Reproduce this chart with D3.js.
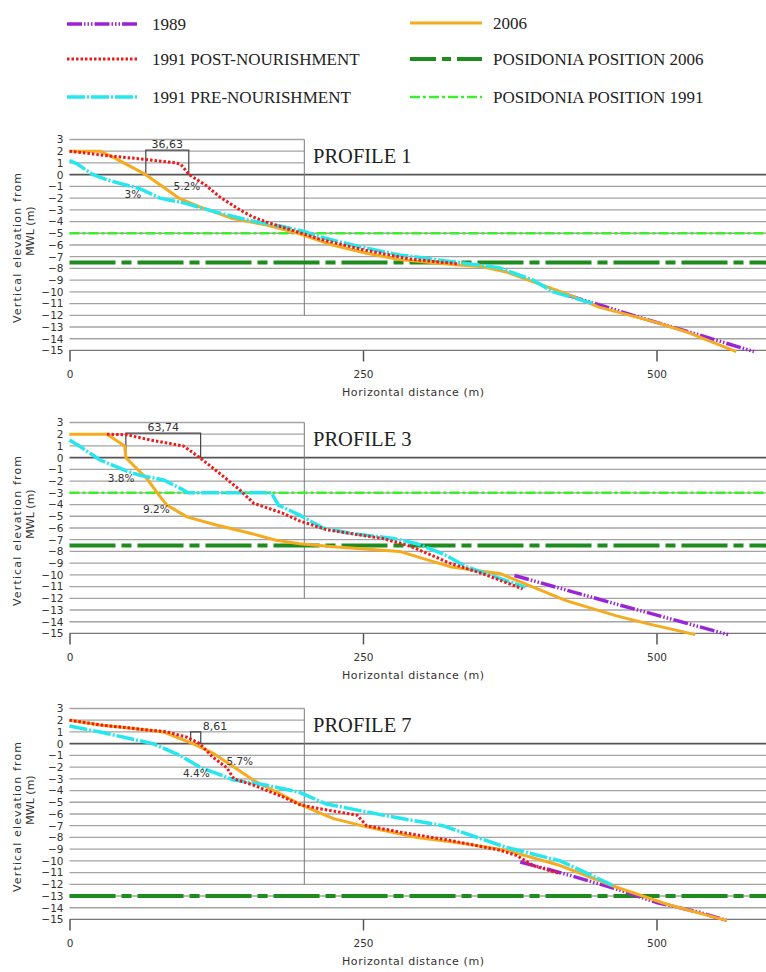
<!DOCTYPE html>
<html>
<head>
<meta charset="utf-8">
<script src="https://cdn.jsdelivr.net/npm/d3@7"></script>
<style>
  body { margin: 0; background: #fff; }
  svg { display: block; }
  .cad { font-family: "DejaVu Sans", sans-serif; fill: #333; }
</style>
</head>
<body>
<svg width="766" height="972"></svg>
<script>
// profile titles and posidonia levels (m)
var profileNames = ["PROFILE 1", "PROFILE 3", "PROFILE 7"];
var posidonia2006 = [-7.5, -7.5, -13];
var posidonia1991 = [-5, -3, null];

// [horizontal distance (m), elevation (m)]
var p1_1989 = [[425,-10.3],[480,-12.0],[537,-13.7],[583,-15.1]];
var p1_post = [[0,2.0],[34,1.6],[65,1.3],[91,1.0],[95,0.85],[102,0],[116,-0.9],[128,-1.9],[145,-3.0],[156,-3.6],[168,-4.05],[190,-4.75],[213,-5.5],[250,-6.4],[290,-7.2],[330,-7.6]];
var p1_pre = [[0,1.2],[6,0.95],[20,0],[34,-0.5],[60,-1.2],[77,-2.0],[99,-2.45],[125,-3.2],[153,-3.9],[182,-4.45],[200,-4.85],[213,-5.3],[247,-6.15],[281,-6.85],[324,-7.4],[366,-7.95],[395,-9.0],[412,-10.0],[446,-11.0]];
var p1_2006 = [[0,2.0],[26,2.0],[37,1.5],[65,0],[94,-2.05],[111,-2.75],[139,-3.75],[168,-4.3],[196,-5.05],[224,-6.0],[253,-6.7],[281,-7.25],[324,-7.65],[352,-7.85],[372,-8.3],[395,-9.15],[423,-10.15],[451,-11.3],[500,-12.6],[525,-13.4],[568,-15.1]];

var p3_1989 = [[379,-10.05],[466,-12.5],[561,-15.1]];
var p3_post = [[32,2.0],[49,1.95],[69,1.5],[97,1.0],[111,0],[128,-1.35],[145,-2.75],[157,-3.9],[182,-4.75],[196,-5.4],[219,-6.15],[267,-6.9],[290,-7.55],[324,-9.0],[352,-9.9],[386,-11.2]];
var p3_pre = [[0,1.5],[9,0.95],[26,-0.2],[49,-1.15],[60,-1.5],[80,-1.9],[94,-2.6],[101,-3.0],[172,-3.0],[178,-4.05],[196,-4.9],[216,-6.0],[239,-6.45],[276,-6.9],[296,-7.35],[318,-8.2],[338,-9.3],[355,-9.9],[388,-11.05]];
var p3_2006 = [[0,2.0],[32,2.0],[47,1.0],[48,0],[54,-0.6],[66,-1.8],[77,-3.3],[83,-4.05],[100,-5.05],[125,-5.75],[154,-6.45],[176,-7.05],[196,-7.35],[225,-7.6],[281,-8.0],[324,-9.3],[367,-9.9],[395,-11.05],[423,-12.2],[466,-13.5],[494,-14.2],[533,-15.1]];

var p7_1989 = [[384,-10.1],[418,-11.0],[466,-12.4],[500,-13.55],[537,-14.4],[560,-15.1]];
var p7_post = [[0,2.0],[26,1.6],[83,1.0],[100,0.55],[111,0],[122,-1.15],[134,-2.05],[140,-3.0],[157,-3.55],[182,-4.55],[196,-5.2],[213,-5.55],[245,-6.1],[253,-7.0],[282,-7.55],[324,-8.25],[367,-9.1],[381,-9.55],[395,-10.4],[418,-11.1]];
var p7_pre = [[0,1.5],[26,1.0],[71,0],[94,-1.0],[111,-2.0],[140,-3.1],[168,-3.55],[196,-4.15],[213,-4.9],[219,-5.15],[267,-6.1],[318,-7.0],[372,-8.85],[418,-10.0],[463,-12.1]];
var p7_2006 = [[0,2.0],[26,1.6],[54,1.3],[80,1.0],[91,0.55],[105,0],[123,-0.85],[140,-2.0],[157,-3.15],[177,-4.15],[196,-5.15],[213,-5.9],[225,-6.4],[253,-7.1],[296,-8.0],[338,-8.55],[372,-9.1],[418,-10.4],[466,-12.25],[509,-13.7],[560,-15.1]];

// shoreline shift: [from, to] distance (m) and its label
var shiftSpans = [[65,101.6],[48,111.7],[103.2,111.8]];
var shiftLabels = ["36,63", "63,74", "8,61"];
// slope labels: [2006 slope, 1991 slope]
var slopeLabels = [["5.2%","3%"], ["9.2%","3.8%"], ["5.7%","4.4%"]];

var yTicks = d3.range(3, -16, -1);
var xTicks = [0, 250, 500];

var legendNames = ["1989", "1991 POST-NOURISHMENT", "1991 PRE-NOURISHMENT", "2006", "POSIDONIA POSITION 2006", "POSIDONIA POSITION 1991"];

var svg = d3.select("svg"),
    width = +svg.attr("width");

var styles = {
  y1989: {stroke: "#9b24d8", width: 3.5, dash: "15,2,1.5,2,1.5,2,1.5,2"},
  post: {stroke: "#f01818", width: 3, dash: "2.5,2"},
  pre: {stroke: "#26e6ef", width: 3.5, dash: "18,2,2,2"},
  y2006: {stroke: "#f6aa1e", width: 3, dash: null},
  pos2006: {stroke: "#1e8c1e", width: 4, dash: "46,6,10,6"},
  pos1991: {stroke: "#3cee2c", width: 2.5, dash: "10,3,3,3"}
};

var x = d3.scaleLinear().domain([0, 500]).range([69.5, 656.5]);
var yStep = 11.72;
var tops = [139.5, 422.5, 708.5];
var series = [
  [p1_1989, p1_2006, p1_pre, p1_post],
  [p3_1989, p3_2006, p3_pre, p3_post],
  [p7_1989, p7_2006, p7_pre, p7_post]
];
var seriesStyle = [styles.y1989, styles.y2006, styles.pre, styles.post];

// slope label anchors [distance, elevation] per profile
var slopePos = [
  [[100,-1.35],[54,-1.95]],
  [[74,-4.7],[44,-2.05]],
  [[145,-1.8],[108,-2.85]]
];
var shiftBar = [[2.1, 0, 0], [2.1, 0, 0], [1.0, 0.1, 0]];

function styled(sel, s) {
  sel.attr("fill", "none")
    .attr("stroke", s.stroke)
    .attr("stroke-width", s.width)
    .attr("stroke-dasharray", s.dash);
  return sel;
}

profileNames.forEach(function(name, i) {
  var top = tops[i],
      y = d3.scaleLinear().domain([3, -15]).range([top, top + 18 * yStep]),
      g = svg.append("g");

  // grid
  g.selectAll("line.grid")
    .data(yTicks)
    .enter().append("line")
      .attr("class", "grid")
      .attr("x1", x(0))
      .attr("x2", function(d) { return d > 0 ? x(200) : width; })
      .attr("y1", function(d) { return y(d); })
      .attr("y2", function(d) { return y(d); })
      .attr("stroke", function(d) { return d === 0 ? "#555" : (d === -15 ? "#777" : "#a4a4a4"); })
      .attr("stroke-width", function(d) { return d === 0 ? 1.6 : 1.3; });

  g.append("line")
    .attr("x1", x(200)).attr("x2", x(200))
    .attr("y1", y(3)).attr("y2", y(-12))
    .attr("stroke", "#777").attr("stroke-width", 1);

  // y axis
  var yAxis = g.append("g")
    .attr("transform", "translate(" + x(0) + ",0)")
    .call(d3.axisLeft(y).tickValues(yTicks).tickSize(0).tickPadding(6));
  yAxis.select(".domain").remove();
  yAxis.selectAll("text").attr("class", "cad").style("font-size", "10.5px").attr("fill", "#333");

  // x axis
  var xAxis = g.append("g")
    .attr("transform", "translate(0," + y(-15) + ")")
    .call(d3.axisBottom(x).tickValues(xTicks).tickSize(11).tickPadding(9));
  xAxis.select(".domain").remove();
  xAxis.selectAll("line").attr("stroke", "#555").attr("stroke-width", 1.5);
  xAxis.selectAll("text").attr("class", "cad").style("font-size", "10.5px").attr("fill", "#333");

  g.append("text")
    .attr("class", "cad")
    .attr("x", 342)
    .attr("y", y(-15) + 42)
    .attr("dominant-baseline", "central")
    .attr("textLength", 142)
    .style("font-size", "11px")
    .text("Horizontal distance (m)");

  g.append("text")
    .attr("class", "cad")
    .attr("transform", "translate(17," + (top + 108.5) + ") rotate(-90)")
    .attr("text-anchor", "middle")
    .attr("dominant-baseline", "central")
    .attr("textLength", 150)
    .style("font-size", "11px")
    .text("Vertical elevation from");
  g.append("text")
    .attr("class", "cad")
    .attr("transform", "translate(30," + (top + 91.5) + ") rotate(-90)")
    .attr("text-anchor", "middle")
    .attr("dominant-baseline", "central")
    .style("font-size", "11px")
    .text("MWL (m)");

  g.append("text")
    .attr("x", 313)
    .attr("y", top + 23.5)
    .style("font-family", "'Liberation Serif', 'Times New Roman', serif")
    .style("font-size", "20.5px")
    .attr("fill", "#222")
    .text(name);

  // posidonia limits
  if (posidonia1991[i] !== null) {
    styled(g.append("line"), styles.pos1991)
      .attr("x1", x(0)).attr("x2", width)
      .attr("y1", y(posidonia1991[i])).attr("y2", y(posidonia1991[i]));
  }
  styled(g.append("line"), styles.pos2006)
    .attr("x1", x(0)).attr("x2", width)
    .attr("y1", y(posidonia2006[i])).attr("y2", y(posidonia2006[i]));

  // shoreline shift dimension
  var span = shiftSpans[i], bar = shiftBar[i];
  g.append("path")
    .attr("d", "M" + x(span[0]) + "," + y(bar[1]) + "V" + y(bar[0]) +
               "H" + x(span[1]) + "V" + y(bar[2]))
    .attr("fill", "none").attr("stroke", "#444").attr("stroke-width", 1.2);
  g.append("text")
    .attr("class", "cad")
    .attr("x", i === 2 ? x(span[1]) + 2 : x((span[0] + span[1]) / 2))
    .attr("y", y(bar[0]) - 2)
    .attr("text-anchor", i === 2 ? "start" : "middle")
    .style("font-size", "11px")
    .text(shiftLabels[i]);

  // profiles
  var line = d3.line()
    .x(function(d) { return x(d[0]); })
    .y(function(d) { return y(d[1]); });
  series[i].forEach(function(data, k) {
    styled(g.append("path"), seriesStyle[k])
      .attr("d", line(data))
      .attr("stroke-linejoin", "round");
  });

  // slope labels
  slopeLabels[i].forEach(function(t, k) {
    g.append("text")
      .attr("class", "cad")
      .attr("x", x(slopePos[i][k][0]))
      .attr("y", y(slopePos[i][k][1]))
      .attr("text-anchor", "middle")
      .style("font-size", "10.5px")
      .text(t);
  });
});

// legend
var legendStyle = [styles.y1989, styles.post, styles.pre, styles.y2006, styles.pos2006, styles.pos1991];
var legendY = [24, 59, 97, 23, 59, 97];
legendNames.forEach(function(name, i) {
  var col = i < 3 ? 0 : 1,
      lx = col ? 410 : 67,
      s = legendStyle[i];
  var dash = s === styles.pos2006 ? "26,6,9,6" : s.dash;
  svg.append("line")
    .attr("x1", lx).attr("x2", lx + 72)
    .attr("y1", legendY[i]).attr("y2", legendY[i])
    .attr("stroke", s.stroke).attr("stroke-width", s.width)
    .attr("stroke-dasharray", dash);
  svg.append("text")
    .attr("x", col ? 493 : 152)
    .attr("y", legendY[i])
    .attr("dominant-baseline", "central")
    .style("font-family", "'Liberation Serif', 'Times New Roman', serif")
    .style("font-size", "17px")
    .attr("fill", "#222")
    .text(name);
});
</script>
</body>
</html>
